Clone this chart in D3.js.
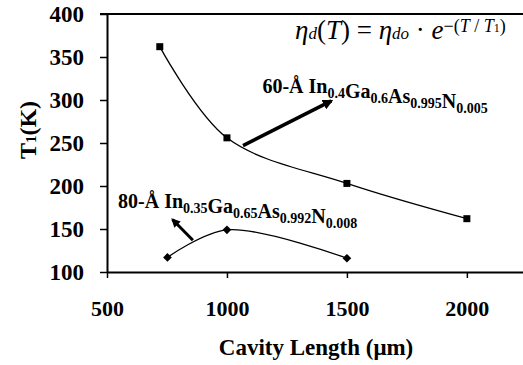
<!DOCTYPE html>
<html>
<head>
<meta charset="utf-8">
<script src="https://cdn.jsdelivr.net/npm/d3@7"></script>
<style>
  body { margin: 0; background: #fff; }
  svg { display: block; }
  svg text { font-family: "Liberation Serif", "Times New Roman", serif; }
</style>
</head>
<body>
<svg id="chart" width="523" height="365"></svg>
<script>
// data
const lengths60 = [720, 1000, 1500, 2000];
const t1_60 = [362, 256, 203, 162];
const lengths80 = [752, 1000, 1500];
const t1_80 = [117, 149, 116];
const xTicks = [500, 1000, 1500, 2000];
const yTicks = [100, 150, 200, 250, 300, 350, 400];

const width = 523, height = 365;
const svg = d3.select('#chart');

const x = d3.scaleLinear().domain([500, 2234]).range([107, 523]);
const y = d3.scaleLinear().domain([100, 400]).range([272, 14]);

svg.append('defs').append('marker')
    .attr('id', 'head')
    .attr('viewBox', '0 0 10 10')
    .attr('refX', 8).attr('refY', 5)
    .attr('markerWidth', 3).attr('markerHeight', 3)
    .attr('orient', 'auto')
  .append('path')
    .attr('d', 'M0,0 L10,5 L0,10 Z')
    .attr('fill', '#000');

// axes
const xAxis = svg.append('g')
    .attr('transform', `translate(0,${y(100)})`)
    .call(d3.axisBottom(x).tickValues(xTicks).tickSize(6).tickSizeOuter(0).tickFormat(d3.format('d')));
xAxis.attr('font-family', null);
xAxis.select('.domain').attr('stroke-width', 2);
xAxis.selectAll('.tick line').attr('stroke-width', 1.5);
xAxis.selectAll('text')
    .attr('dy', null).attr('y', 44)
    .style('font-size', '22px').style('font-weight', 'bold');

const yAxis = svg.append('g')
    .attr('transform', `translate(${x(500)},0)`)
    .call(d3.axisLeft(y).tickValues(yTicks).tickSize(7).tickSizeOuter(0));
yAxis.attr('font-family', null);
yAxis.select('.domain').attr('stroke-width', 2);
yAxis.selectAll('.tick line').attr('stroke-width', 1.5);
yAxis.selectAll('text')
    .attr('x', -23).attr('text-anchor', 'end')
    .style('font-size', '23px').style('font-weight', 'bold');

// top frame line
svg.append('line')
    .attr('x1', x(500) - 7).attr('x2', width)
    .attr('y1', y(400)).attr('y2', y(400))
    .attr('stroke', '#000').attr('stroke-width', 2);

// axis titles
svg.append('text')
    .attr('x', 316).attr('y', 355)
    .attr('text-anchor', 'middle')
    .style('font-size', '23px').style('font-weight', 'bold')
    .text('Cavity Length (\u03bcm)');

const yTitle = svg.append('text')
    .attr('transform', 'translate(36,130) rotate(-90)')
    .attr('text-anchor', 'middle')
    .style('font-size', '24px').style('font-weight', 'bold');
yTitle.append('tspan').text('T');
yTitle.append('tspan').style('font-size', '15px').text('1');
yTitle.append('tspan').text('(K)');

// curves
const line = d3.line().x(d => x(d[0])).y(d => y(d[1])).curve(d3.curveCatmullRom.alpha(0.5));
const s60 = lengths60.map((v, i) => [v, t1_60[i]]);
const s80 = lengths80.map((v, i) => [v, t1_80[i]]);

svg.append('path').datum(s60).attr('d', line)
    .attr('fill', 'none').attr('stroke', '#000').attr('stroke-width', 1.3);
svg.append('path').datum(s80).attr('d', line)
    .attr('fill', 'none').attr('stroke', '#000').attr('stroke-width', 1.3);

svg.selectAll('.sq').data(s60).enter().append('rect')
    .attr('x', d => x(d[0]) - 3.5).attr('y', d => y(d[1]) - 3.5)
    .attr('width', 7).attr('height', 7).attr('fill', '#000');

svg.selectAll('.dm').data(s80).enter().append('path')
    .attr('transform', d => `translate(${x(d[0])},${y(d[1])})`)
    .attr('d', d3.symbol(d3.symbolDiamond2, 48))
    .attr('fill', '#000');

// annotation arrows (data units)
const arrows = [
  {from: [1067, 247], to: [1435, 299], w: 3.5},
  {from: [858, 137], to: [773, 161], w: 3}
];
svg.selectAll('.arrow').data(arrows).enter().append('line')
    .attr('x1', d => x(d.from[0])).attr('y1', d => y(d.from[1]))
    .attr('x2', d => x(d.to[0])).attr('y2', d => y(d.to[1]))
    .attr('stroke', '#000').attr('stroke-width', d => d.w)
    .attr('marker-end', 'url(#head)');

// series labels
function chemLabel(px, py, parts) {
  const t = svg.append('text').attr('x', px).attr('y', py)
      .style('font-size', '20px').style('font-weight', 'bold');
  parts.forEach(p => {
    if (p.sub) {
      t.append('tspan').attr('dy', 5).style('font-size', '14px').text(p.sub);
      t.append('tspan').attr('dy', -5).text('');
    } else {
      t.append('tspan').text(p.txt);
    }
  });
}
chemLabel(x(1148), y(308), [
  {txt: '60-\u00c5 In'}, {sub: '0.4'}, {txt: 'Ga'}, {sub: '0.6'},
  {txt: 'As'}, {sub: '0.995'}, {txt: 'N'}, {sub: '0.005'}
]);
chemLabel(x(546), y(174.5), [
  {txt: '80-\u00c5 In'}, {sub: '0.35'}, {txt: 'Ga'}, {sub: '0.65'},
  {txt: 'As'}, {sub: '0.992'}, {txt: 'N'}, {sub: '0.008'}
]);

// equation
const eq = svg.append('text').attr('x', 295).attr('y', 39)
    .style('font-size', '27px');
eq.append('tspan').style('font-style', 'italic').text('\u03b7');
eq.append('tspan').style('font-style', 'italic').style('font-size', '17px').text('d');
eq.append('tspan').text('(');
eq.append('tspan').style('font-style', 'italic').text('T');
eq.append('tspan').text(') = ');
eq.append('tspan').style('font-style', 'italic').text('\u03b7');
eq.append('tspan').style('font-style', 'italic').style('font-size', '17px').text('do');
eq.append('tspan').text(' \u00b7 ');
eq.append('tspan').style('font-style', 'italic').text('e');
eq.append('tspan').attr('dy', -7).style('font-size', '18px').text('\u2212(');
eq.append('tspan').style('font-size', '18px').style('font-style', 'italic').text('T');
eq.append('tspan').style('font-size', '18px').text(' / ');
eq.append('tspan').style('font-size', '18px').style('font-style', 'italic').text('T');
eq.append('tspan').style('font-size', '12px').text('1');
eq.append('tspan').style('font-size', '18px').text(')');
</script>
</body>
</html>
